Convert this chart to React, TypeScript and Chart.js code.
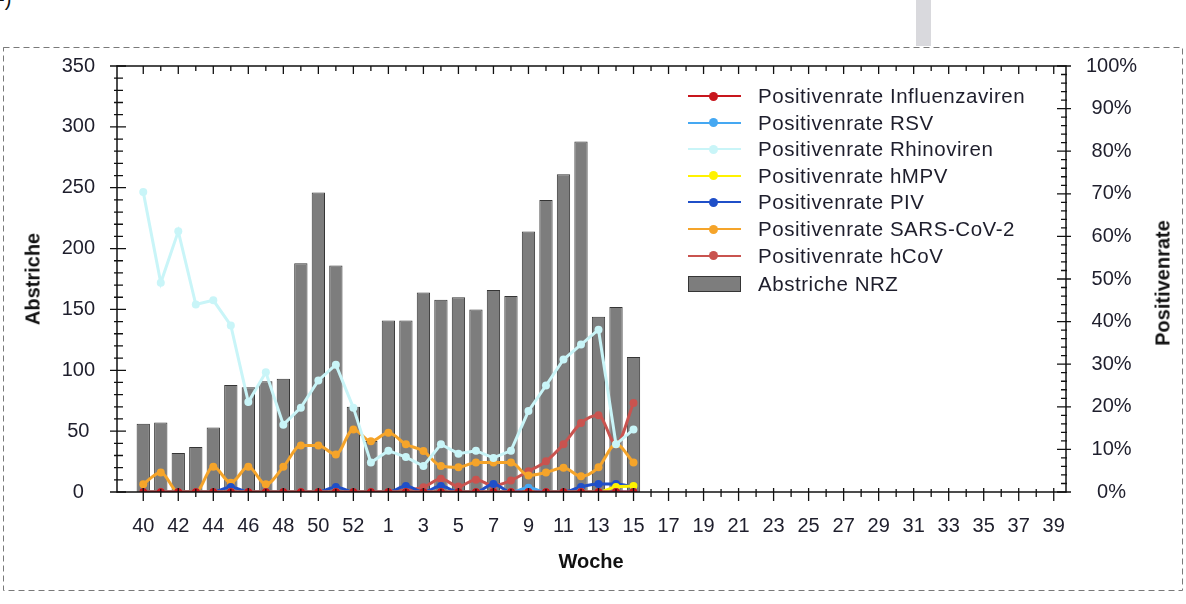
import { useEffect, useRef } from 'react';
import { Chart, registerables } from 'chart.js';

Chart.register(...registerables);

// Kalenderwochen der Saison (40/2020 bis 39/2021)
const weeks = [
  40, 41, 42, 43, 44, 45, 46, 47, 48, 49, 50, 51, 52, 53,
  1, 2, 3, 4, 5, 6, 7, 8, 9, 10, 11, 12, 13, 14, 15, 16, 17, 18, 19, 20,
  21, 22, 23, 24, 25, 26, 27, 28, 29, 30, 31, 32, 33, 34, 35, 36, 37, 38, 39,
];
const tickWeeks = [40, 42, 44, 46, 48, 50, 52, 1, 3, 5, 7, 9, 11, 13, 15, 17, 19, 21, 23, 25, 27, 29, 31, 33, 35, 37, 39];

// Abstriche NRZ (linke Achse), KW 40 bis KW 15
const swabs = [56, 57, 32, 37, 53, 88, 86, 91, 93, 188, 246, 186, 70, 42, 141, 141, 164, 158, 160, 150, 166, 161, 214, 240, 261, 288, 144, 152, 111];

// Positivenraten in % (rechte Achse)
const influenza = [0, 0, 0, 0, 0, 0, 0, 0, 0, 0, 0, 0, 0, 0, 0, 0, 0, 0, 0, 0, 0, 0, 0, 0, 0, 0, 0, 0, 0];
const rsv = [0, 0, 0, 0, 0, 0, 0, 0, 0, 0, 0, 0, 0, 0, 0, 0, 0, 0, 0, 0, 0, 0, 1.0, 0, 0, 0, 0, 0, 0];
const rhino = [70.4, 49.1, 61.2, 44, 45, 39.1, 21.1, 28.1, 15.8, 19.8, 26.2, 29.9, 19.8, 6.9, 9.7, 8.2, 6.1, 11.2, 9, 9.7, 8, 9.7, 19, 25, 31.1, 34.6, 38.1, 11.2, 14.7];
const hmpv = [0, 0, 0, 0, 0, 0, 0, 0, 0, 0, 0, 0, 0, 0, 0, 0, 0, 0, 0, 0, 0, 0, 0, 0, 0, 0, 0, 1.2, 1.4];
const piv = [0, 0, 0, 0, 0, 1.2, 0, 0, 0, 0, 0, 1.2, 0, 0, 0, 1.4, 0, 1.4, 0, 0, 1.9, 0, 0, 0, 0, 1.2, 1.9, 1.9, 1.2];
const sars = [1.8, 4.6, 0, 0, 5.9, 2.2, 5.9, 1.8, 5.9, 10.9, 10.9, 8.8, 14.7, 11.9, 13.9, 11.2, 9.6, 6.1, 5.8, 6.9, 6.9, 6.9, 3.9, 4.6, 5.7, 3.7, 5.8, 11.2, 6.9];
const hcov = [null, null, null, null, null, null, null, null, null, null, null, null, null, null, 0, 0.5, 1.1, 3.1, 1.3, 2.9, 1.5, 2.7, 4.9, 7.2, 11.2, 16.2, 18, 11.2, 20.9];

const series = [
  { label: 'Positivenrate Influenzaviren', color: '#c8161d', data: influenza, smooth: true },
  { label: 'Positivenrate RSV', color: '#45a8f2', data: rsv, smooth: true },
  { label: 'Positivenrate Rhinoviren', color: '#c9f5f8', data: rhino, smooth: false },
  { label: 'Positivenrate hMPV', color: '#fff200', data: hmpv, smooth: true },
  { label: 'Positivenrate PIV', color: '#1f4fc8', data: piv, smooth: true },
  { label: 'Positivenrate SARS-CoV-2', color: '#f5a42a', data: sars, smooth: true },
  { label: 'Positivenrate hCoV', color: '#c9534f', data: hcov, smooth: true },
];

const FONT = "'Liberation Sans', Arial, sans-serif";
const TEXT = '#1e1e2c';

// Rahmen mit Teilstrichen wie im Original (kreuzende Haupt- und Nebenstriche)
const frameTicks = {
  id: 'frameTicks',
  afterDatasetsDraw(chart: any) {
    const { ctx, chartArea: a, scales } = chart;
    ctx.save();
    ctx.strokeStyle = '#111';
    ctx.lineWidth = 1.5;
    ctx.strokeRect(a.left, a.top, a.right - a.left, a.bottom - a.top);
    ctx.lineWidth = 1.3;
    ctx.beginPath();
    for (let v = 0; v <= 350; v += 10) {
      const p = scales.y.getPixelForValue(v);
      const major = v % 50 === 0;
      ctx.moveTo(a.left - (major ? 7 : 3), p);
      ctx.lineTo(a.left + (major ? 9 : 6), p);
    }
    for (let v = 0; v <= 100; v += 2) {
      const p = scales.y1.getPixelForValue(v);
      const major = v % 10 === 0;
      ctx.moveTo(a.right - (major ? 9 : 5), p);
      ctx.lineTo(a.right + (major ? 5 : 1), p);
    }
    weeks.forEach((w, i) => {
      const p = scales.x.getPixelForValue(i);
      const major = tickWeeks.includes(w);
      ctx.moveTo(p, a.bottom - (major ? 4 : 3));
      ctx.lineTo(p, a.bottom + (major ? 9 : 5));
      ctx.moveTo(p, a.top);
      ctx.lineTo(p, a.top + (major ? 8 : 5));
    });
    ctx.stroke();
    ctx.restore();
  },
};

export default function App() {
  const canvasRef = useRef<HTMLCanvasElement>(null);
  const chartRef = useRef<Chart | null>(null);

  useEffect(() => {
    if (!canvasRef.current) return;
    if (chartRef.current) chartRef.current.destroy();

    Chart.defaults.font.family = FONT;

    const lineSets = series.map(s => ({
      type: 'line' as const,
      label: s.label,
      data: s.data.map((v, i) => ({ x: i, y: v })),
      yAxisID: 'y1',
      borderColor: s.color,
      backgroundColor: s.color,
      pointBackgroundColor: s.color,
      pointBorderWidth: 0,
      pointRadius: 4,
      borderWidth: 3,
      cubicInterpolationMode: s.smooth ? ('monotone' as const) : ('default' as const),
      tension: 0,
      spanGaps: false,
      order: 0,
    }));

    chartRef.current = new Chart(canvasRef.current, {
      type: 'bar',
      data: {
        datasets: [
          ...lineSets,
          {
            type: 'bar',
            label: 'Abstriche NRZ',
            data: swabs.map((v, i) => ({ x: i, y: v })),
            yAxisID: 'y',
            backgroundColor: '#7d7d7d',
            borderColor: '#353535',
            borderWidth: 1,
            categoryPercentage: 0.8,
            barPercentage: 0.95,
            order: 1,
          } as any,
        ],
      },
      options: {
        responsive: false,
        animation: false,
        layout: { padding: { top: 66, left: 0, right: 0, bottom: 0 } },
        plugins: {
          legend: { display: false },
          tooltip: { enabled: false },
        },
        scales: {
          x: {
            type: 'linear',
            offset: false,
            min: -1.5,
            max: 52.7,
            afterBuildTicks: (scale: any) => {
              scale.ticks = tickWeeks.map(w => ({ value: weeks.indexOf(w) }));
            },
            afterFit: (scale: any) => { scale.height = 112; },
            ticks: {
              color: TEXT,
              font: { size: 20 },
              padding: 22,
              autoSkip: false,
              maxRotation: 0,
              callback: (v: any) => String(weeks[v as number]),
            },
            grid: { display: false, drawTicks: false },
            border: { display: false },
          },
          y: {
            position: 'left',
            min: 0,
            max: 350,
            afterFit: (scale: any) => { scale.width = 117; },
            ticks: {
              stepSize: 50,
              color: TEXT,
              font: { size: 20 },
              padding: 22,
              crossAlign: 'center',
            },
            grid: { display: false, drawTicks: false },
            border: { display: false },
          },
          y1: {
            position: 'right',
            min: 0,
            max: 100,
            afterFit: (scale: any) => { scale.width = 120; },
            ticks: {
              stepSize: 10,
              color: TEXT,
              font: { size: 20 },
              padding: 20,
              crossAlign: 'center',
              callback: (v: any) => `${v}%`,
            },
            grid: { display: false, drawTicks: false },
            border: { display: false },
          },
        },
      },
      plugins: [frameTicks],
    });

    return () => {
      if (chartRef.current) { chartRef.current.destroy(); chartRef.current = null; }
    };
  }, []);

  const title = { position: 'absolute' as const, fontFamily: FONT, fontWeight: 'bold' as const, fontSize: 20, color: '#111', whiteSpace: 'nowrap' as const };
  const legendText = { marginLeft: 17, fontFamily: FONT, fontSize: 20.5, letterSpacing: 0.55, color: TEXT, whiteSpace: 'nowrap' as const };

  return (
    <div style={{ position: 'relative', width: 1186, height: 604, overflow: 'hidden', background: '#fff' }}>
      <style>{'body{margin:0}'}</style>
      <div style={{ position: 'absolute', left: 916, top: 0, width: 15, height: 46, background: '#d9d9dd' }} />
      <div style={{ position: 'absolute', left: -2, top: -12, fontFamily: FONT, fontSize: 20, color: '#111' }}>-)</div>
      <svg width={1186} height={604} style={{ position: 'absolute', left: 0, top: 0 }}>
        <rect x={3.5} y={47.5} width={1179} height={543} fill="none" stroke="#7a7a7a" strokeWidth={1} strokeDasharray="6 4" />
      </svg>
      <canvas ref={canvasRef} width={1186} height={604} style={{ position: 'absolute', left: 0, top: 0 }} />

      <div style={{ ...title, left: 33, top: 279, transform: 'translate(-50%, -50%) rotate(-90deg)' }}>Abstriche</div>
      <div style={{ ...title, left: 1163, top: 283, transform: 'translate(-50%, -50%) rotate(-90deg)' }}>Positivenrate</div>
      <div style={{ ...title, left: 591, top: 561, transform: 'translate(-50%, -50%)' }}>Woche</div>

      {series.map((s, i) => (
        <div key={s.label} style={{ position: 'absolute', left: 688, top: 96 + i * 26.6 - 13, height: 26, display: 'flex', alignItems: 'center' }}>
          <div style={{ position: 'relative', width: 53, height: 26 }}>
            <div style={{ position: 'absolute', left: 0, right: 0, top: 12, height: 2, background: s.color }} />
            <div style={{ position: 'absolute', left: 21, top: 8.5, width: 9, height: 9, borderRadius: '50%', background: s.color }} />
          </div>
          <span style={legendText}>{s.label}</span>
        </div>
      ))}
      <div style={{ position: 'absolute', left: 688, top: 284 - 13, height: 26, display: 'flex', alignItems: 'center' }}>
        <div style={{ width: 51, height: 14, background: '#7d7d7d', border: '1px solid #353535' }} />
        <span style={legendText}>Abstriche NRZ</span>
      </div>
    </div>
  );
}
